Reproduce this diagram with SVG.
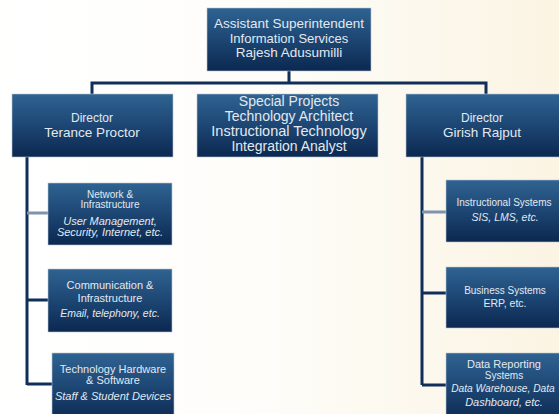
<svg xmlns="http://www.w3.org/2000/svg" width="559" height="414" viewBox="0 0 559 414">
<defs>
<linearGradient id="bg" x1="0" y1="0" x2="1" y2="0">
<stop offset="0" stop-color="#ffffff"/>
<stop offset="0.45" stop-color="#fefdfa"/>
<stop offset="1" stop-color="#fbf4e3"/>
</linearGradient>
<linearGradient id="box" x1="0" y1="0" x2="0" y2="1">
<stop offset="0" stop-color="#2f6392"/>
<stop offset="0.5" stop-color="#1d4673"/>
<stop offset="1" stop-color="#0b2850"/>
</linearGradient>
<style>
.b{fill:url(#box);stroke:#b9c6d4;stroke-width:0.6}
.t{font-family:"Liberation Sans",Arial,sans-serif;fill:#e2e9f0;text-anchor:middle}
.i{font-style:italic}
.c{fill:none;stroke:#0f2e5a;stroke-width:3}
.cl{fill:none;stroke:#7f93ad;stroke-width:3}
</style>
</defs>
<rect width="559" height="414" fill="url(#bg)"/>
<g id="connectors">
<path class="c" d="M289 70V83M92 94V83H486V94"/>
<path class="c" d="M27 157V385M27 300H48M27 384H52"/>
<path class="cl" d="M27 213H48"/>
<path class="c" d="M422 157V385M422 293H446M422 385H446"/>
<path class="cl" d="M422 212H446"/>
</g>
<g id="n-top">
<rect class="b" x="207" y="8" width="164" height="63"/>
<text class="t" font-size="13.5" x="289" y="28">Assistant Superintendent</text>
<text class="t" font-size="13" x="289" y="43">Information Services</text>
<text class="t" font-size="13.5" x="289" y="57">Rajesh Adusumilli</text>
</g>
<g id="n-dir-left">
<rect class="b" x="12" y="94" width="161" height="63"/>
<text class="t" font-size="12" x="92" y="122">Director</text>
<text class="t" font-size="13.5" x="92" y="137">Terance Proctor</text>
</g>
<g id="n-special">
<rect class="b" x="197" y="94" width="181" height="63"/>
<text class="t" font-size="14" x="289" y="106">Special Projects</text>
<text class="t" font-size="14" x="289" y="121">Technology Architect</text>
<text class="t" font-size="14.5" x="289" y="136">Instructional Technology</text>
<text class="t" font-size="14" x="289" y="151">Integration Analyst</text>
</g>
<g id="n-dir-right">
<rect class="b" x="406" y="94" width="160" height="63"/>
<text class="t" font-size="12" x="482" y="122">Director</text>
<text class="t" font-size="13.5" x="482" y="137">Girish Rajput</text>
</g>
<g id="n-network">
<rect class="b" x="48" y="183" width="124" height="62"/>
<text class="t" font-size="10" x="110" y="198">Network &amp;</text>
<text class="t" font-size="10" x="110" y="208">Infrastructure</text>
<text class="t i" font-size="11" x="110" y="225">User Management,</text>
<text class="t i" font-size="11" x="110" y="236">Security, Internet, etc.</text>
</g>
<g id="n-comm">
<rect class="b" x="48" y="269" width="124" height="63"/>
<text class="t" font-size="11" x="110" y="289">Communication &amp;</text>
<text class="t" font-size="11" x="110" y="302">Infrastructure</text>
<text class="t i" font-size="10.5" x="110" y="317">Email, telephony, etc.</text>
</g>
<g id="n-tech">
<rect class="b" x="52" y="353" width="122" height="70"/>
<text class="t" font-size="11" x="113" y="373">Technology Hardware</text>
<text class="t" font-size="11" x="113" y="384">&amp; Software</text>
<text class="t i" font-size="11" x="113" y="400">Staff &amp; Student Devices</text>
</g>
<g id="n-instr">
<rect class="b" x="446" y="180" width="120" height="62"/>
<text class="t" font-size="10" x="504" y="206">Instructional Systems</text>
<text class="t i" font-size="10.5" x="505" y="221">SIS, LMS, etc.</text>
</g>
<g id="n-business">
<rect class="b" x="446" y="267" width="120" height="61"/>
<text class="t" font-size="10" x="505" y="294">Business Systems</text>
<text class="t" font-size="10.5" x="505" y="307">ERP, etc.</text>
</g>
<g id="n-data">
<rect class="b" x="446" y="353" width="120" height="70"/>
<text class="t" font-size="11" x="504" y="368">Data Reporting</text>
<text class="t" font-size="10" x="504" y="379">Systems</text>
<text class="t i" font-size="10.2" x="503" y="392">Data Warehouse, Data</text>
<text class="t i" font-size="11" x="504" y="406">Dashboard, etc.</text>
</g>
</svg>
